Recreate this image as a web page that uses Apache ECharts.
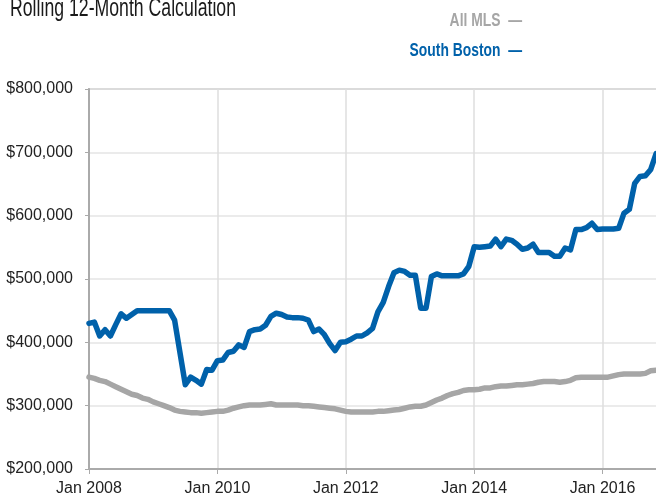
<!DOCTYPE html>
<html>
<head>
<meta charset="utf-8">
<script src="https://cdn.jsdelivr.net/npm/echarts@6/dist/echarts.min.js"></script>
<style>
  html, body { margin: 0; padding: 0; background: #fff; }
  #chart { width: 656px; height: 496px; }
</style>
</head>
<body>
<div id="chart"></div>
<script>
// 数据：每月一个点，从 Jan 2008 开始（单位：千美元）
const startYear = 2008
const seriesNames = ['All MLS', 'South Boston']
const colors = ['#a6a6a6', '#0061aa']

const allMls = [
  345, 343, 340, 338, 334, 330, 326, 322, 318, 316, 312, 310,
  306, 303, 300, 297, 293, 291, 290, 289, 289, 288, 289, 290,
  291, 291, 293, 296, 298, 300, 301, 301, 301, 302, 303, 301,
  301, 301, 301, 301, 300, 300, 299, 298, 297, 296, 295, 293,
  291, 290, 290, 290, 290, 290, 291, 291, 292, 293, 294, 296,
  298, 299, 299, 301, 305, 309, 312, 316, 319, 321, 324, 325,
  325, 326, 328, 328, 330, 331, 331, 332, 333, 333, 334, 335,
  337, 338, 338, 338, 337, 338, 340, 344, 345, 345, 345, 345,
  345, 345, 347, 349, 350, 350, 350, 350, 351, 355, 356
]

const southBoston = [
  430, 432, 410, 420, 410, 428, 445, 438, 444, 450, 450, 450,
  450, 450, 450, 450, 435, 384, 333, 345, 340, 334, 357, 356,
  371, 372, 384, 386, 396, 392, 417, 420, 421, 427, 441, 446,
  444, 440, 439, 439, 438, 435, 417, 421, 412, 398, 387, 400,
  401, 405, 410, 410, 415, 422, 448, 463, 488, 510, 514, 512,
  506, 506, 454, 454, 504, 508, 505, 505, 505, 505, 508, 520,
  551, 550, 551, 552, 563, 551, 563, 561, 555, 547, 549, 555,
  542, 542, 542, 536, 536, 549, 546, 578, 578, 581, 588, 578,
  579, 579, 579, 580, 604, 610, 651, 662, 663, 673, 698
]

const yMin = 200000
const yMax = 800000
const yStep = 100000
const xMonthsMax = 120   // Jan 2018，画面右侧被裁掉
const xStep = 24

const toPoints = arr => arr.map((v, i) => [i, v * 1000])

const chart = echarts.init(document.getElementById('chart'))

const labelFont = '"Liberation Sans", Arial, sans-serif'
// 原图字体偏窄，用 scaleX 压一下
const squeeze = 0.77

const option = {
  backgroundColor: '#fff',
  animation: false,
  grid: {
    left: 89,
    top: 89,
    bottom: 27,
    right: -75,
    outerBoundsMode: 'none',
    show: true,
    borderColor: '#aaa',
    borderWidth: 1.5
  },
  graphic: [
    {
      type: 'text',
      x: 10,
      y: -4,
      scaleX: 0.68,
      style: {
        text: 'Rolling 12-Month Calculation',
        fontFamily: labelFont,
        fontSize: 26,
        fill: '#1a1a1a',
        align: 'left',
        verticalAlign: 'top'
      }
    },
    {
      type: 'text',
      x: 522,
      y: 21,
      scaleX: squeeze,
      style: {
        text: seriesNames[0] + '  —',
        fontFamily: labelFont,
        fontWeight: 'bold',
        fontSize: 18,
        fill: colors[0],
        align: 'right',
        verticalAlign: 'middle'
      }
    },
    {
      type: 'text',
      x: 522,
      y: 51,
      scaleX: squeeze,
      style: {
        text: seriesNames[1] + '  —',
        fontFamily: labelFont,
        fontWeight: 'bold',
        fontSize: 18,
        fill: colors[1],
        align: 'right',
        verticalAlign: 'middle'
      }
    }
  ],
  xAxis: {
    type: 'value',
    min: 0,
    max: xMonthsMax,
    interval: xStep,
    axisLine: { show: true, lineStyle: { color: '#aaa', width: 2 } },
    axisTick: { show: true, length: 5, lineStyle: { color: '#aaa' } },
    splitLine: { show: true, lineStyle: { color: '#dedede', width: 1.5 } },
    axisLabel: {
      margin: 12,
      color: '#222',
      fontSize: 16,
      fontFamily: labelFont,
      formatter: v => 'Jan ' + (startYear + v / 12)
    }
  },
  yAxis: {
    type: 'value',
    min: yMin,
    max: yMax,
    interval: yStep,
    axisLine: { show: true, lineStyle: { color: '#aaa', width: 2 } },
    axisTick: { show: true, length: 4, lineStyle: { color: '#aaa' } },
    splitLine: { show: true, lineStyle: { color: '#e4e4e4', width: 1.5 } },
    axisLabel: {
      margin: 16,
      color: '#222',
      fontSize: 16,
      fontFamily: labelFont,
      formatter: v => '$' + v.toLocaleString('en-US')
    }
  },
  series: [
    {
      name: seriesNames[0],
      type: 'line',
      data: toPoints(allMls),
      showSymbol: false,
      lineStyle: { color: colors[0], width: 5.5, join: 'round', cap: 'round' },
      z: 3
    },
    {
      name: seriesNames[1],
      type: 'line',
      data: toPoints(southBoston),
      showSymbol: false,
      lineStyle: { color: colors[1], width: 5.5, join: 'round', cap: 'round' },
      z: 4
    }
  ]
}

chart.setOption(option)
</script>
</body>
</html>
